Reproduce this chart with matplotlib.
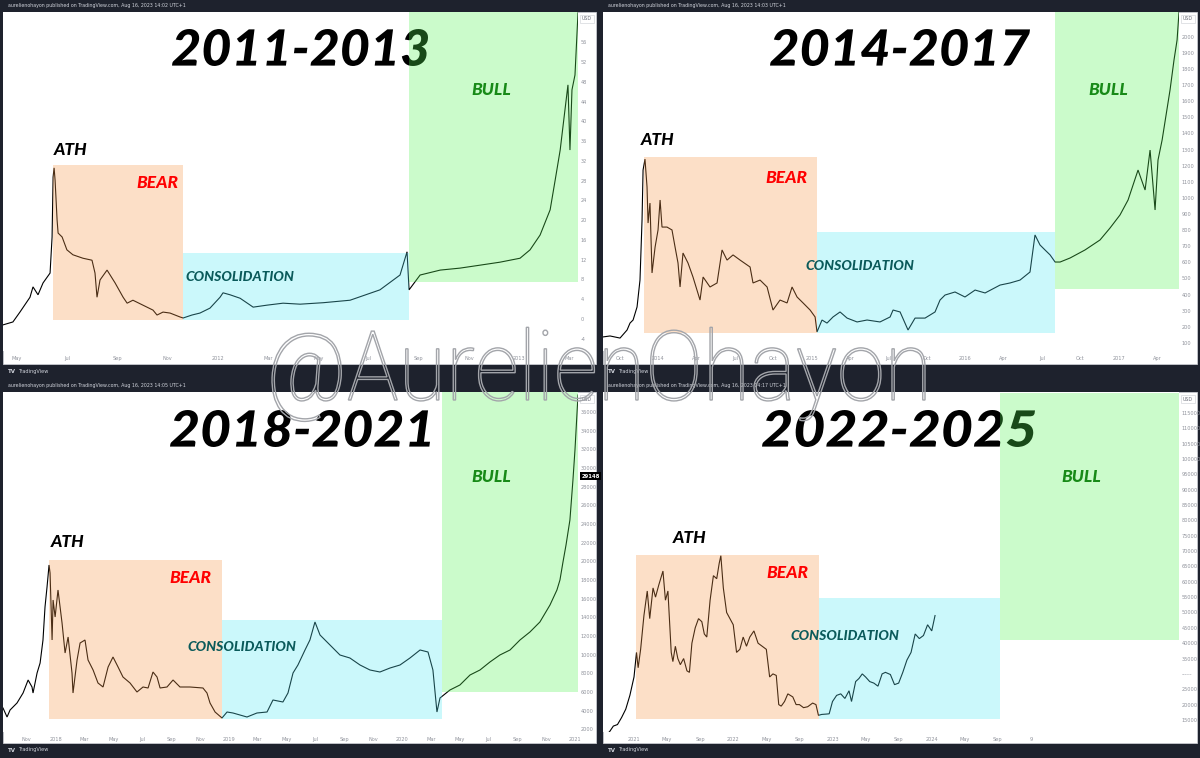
import matplotlib
matplotlib.use("Agg")
import matplotlib.pyplot as plt
from matplotlib.patches import Rectangle, PathPatch
from matplotlib.textpath import TextPath
from matplotlib.font_manager import FontProperties
from matplotlib.transforms import Affine2D

# ---------------- DATA ----------------
# Panel 1: 2011-2013 (x = months since Jan 2011, y = USD)
p1_month = [3.43, 3.83, 4.11, 4.51, 4.63, 4.83, 5.03, 5.31, 5.39, 5.43, 5.47, 5.51, 5.59, 5.63, 5.79,
            5.98, 6.22, 6.62, 6.98, 7.10, 7.18, 7.30, 7.58, 7.90, 8.22, 8.38, 8.61, 9.01, 9.41, 9.57,
            9.81, 10.09, 10.49, 10.61, 10.96, 11.28, 11.68, 12.08, 12.20, 12.48, 12.88, 13.40, 13.95,
            14.59, 15.27, 16.2, 17.26, 18.45, 19.25, 19.53, 19.61, 20.05, 20.85, 21.64, 22.44, 23.23,
            24.03, 24.43, 24.83, 25.23, 25.43, 25.63, 25.82, 25.94, 26.02, 26.10, 26.22, 26.34]
p1_price = [-1.2, -0.6, 1.4, 4.4, 6.5, 4.9, 7.3, 9.3, 16.6, 28.7, 30.6, 28.1, 20.0, 17.4, 16.6,
            14.0, 13.0, 12.3, 11.9, 9.3, 4.4, 7.9, 9.9, 7.3, 4.4, 3.2, 3.8, 2.8, 1.8, 0.8,
            1.4, 1.2, 0.4, 0.2, 0.8, 1.2, 2.2, 4.4, 5.3, 4.9, 4.2, 2.4, 2.8,
            3.2, 3.0, 3.3, 3.8, 5.9, 8.9, 13.6, 5.9, 8.9, 9.9, 10.3, 10.9, 11.5,
            12.3, 14.0, 17.0, 22.1, 28.1, 34.2, 42.3, 47.4, 34.2, 46.4, 49.4, 62.0]
p1_box_start = [5.43, 10.61, 19.61]
p1_box_end = [10.61, 19.61, 26.34]
p1_box_low = [-0.2, -0.2, 7.5]
p1_box_high = [31.2, 13.4, 62.2]
p1_xticks = [4, 6, 8, 10, 12, 14, 16, 18, 20, 22, 24, 26]
p1_xlabels = ["May", "Jul", "Sep", "Nov", "2012", "Mar", "May", "Jul", "Sep", "Nov", "2013", "Mar"]
p1_yticks = list(range(-4, 57, 4))

# Panel 2: 2014-2017 (x = months since Jan 2014)
p2_month = [-4.30, -3.75, -2.97, -2.42, -2.19, -1.95, -1.64, -1.41, -1.25, -1.17, -1.02, -0.86, -0.78,
            -0.63, -0.47, -0.23, 0.00, 0.16, 0.31, 0.70, 1.09, 1.33, 1.56, 1.72, 1.95, 2.34, 2.73,
            3.28, 3.52, 4.06, 4.61, 5.00, 5.39, 5.86, 6.41, 7.19, 7.42, 7.97, 8.52, 8.98, 9.53,
            10.08, 10.47, 10.86, 11.33, 11.88, 12.27, 12.42, 12.81, 13.20, 13.67, 14.22, 14.77,
            15.55, 16.33, 17.34, 18.13, 18.36, 18.91, 19.53, 20.08, 20.86, 21.64, 22.03, 22.42,
            23.20, 23.98, 24.77, 25.55, 26.72, 27.50, 28.28, 29.06, 29.45, 29.84, 30.23, 30.63,
            31.02, 31.41, 32.19, 33.36, 34.53, 35.31, 36.09, 36.72, 37.50, 38.05, 38.44, 38.83,
            39.06, 39.38, 40.00, 40.31, 40.55, 40.70]
p2_price = [137, 143, 130, 180, 223, 242, 323, 490, 863, 1173, 1241, 1068, 844,
            968, 534, 695, 801, 987, 819, 819, 801, 695, 596, 447, 658, 596, 509,
            366, 509, 447, 472, 677, 614, 646, 614, 571, 472, 490, 447, 304, 366,
            348, 447, 385, 348, 304, 261, 168, 242, 223, 261, 292, 254,
            230, 242, 230, 261, 304, 292, 180, 254, 254, 292, 366, 397,
            416, 385, 428, 410, 459, 472, 490, 540, 770, 708, 677, 646,
            602, 602, 627, 677, 739, 813, 894, 987, 1173, 1049, 1297, 925,
            1235, 1359, 1670, 1856, 1980, 2154]
p2_box_start = [-1.09, 12.42, 31.02]
p2_box_end = [12.42, 31.02, 40.70]
p2_box_low = [161, 161, 434]
p2_box_high = [1254, 788, 2160]
p2_xticks = [-3, 0, 3, 6, 9, 12, 15, 18, 21, 24, 27, 30, 33, 36, 39]
p2_xlabels = ["Oct", "2014", "Apr", "Jul", "Oct", "2015", "Apr", "Jul", "Oct", "2016", "Apr", "Jul",
              "Oct", "2017", "Apr"]
p2_yticks = list(range(100, 2001, 100))

# Panel 3: 2018-2021 (x = months since Jan 2018)
p3_month = [-3.64, -3.36, -3.15, -2.67, -2.25, -1.90, -1.63, -1.56, -1.28, -1.07, -0.87, -0.73, -0.59,
            -0.45, -0.38, -0.24, -0.17, -0.03, 0.17, 0.45, 0.66, 0.87, 1.14, 1.21, 1.49, 1.70, 2.04,
            2.25, 2.60, 2.94, 3.29, 3.64, 3.98, 4.33, 4.67, 5.16, 5.64, 6.06, 6.41, 6.75, 7.03, 7.24,
            7.72, 8.14, 8.62, 9.31, 10.21, 10.49, 10.70, 11.05, 11.53, 11.88, 12.29, 13.26, 13.95,
            14.65, 15.06, 15.75, 16.10, 16.45, 16.79, 17.28, 17.62, 17.97, 18.32, 19.01, 19.70, 20.39,
            21.09, 21.78, 22.47, 23.17, 23.86, 24.55, 25.25, 25.80, 26.14, 26.42, 26.63, 27.32, 28.01,
            28.71, 29.40, 30.09, 30.78, 31.48, 32.17, 32.86, 33.55, 34.25, 34.73, 34.94, 35.15, 35.36,
            35.63, 35.84, 35.98, 36.19]
p3_price = [4288, 3323, 4074, 4824, 5896, 7290, 6539, 5896, 8040, 9112, 11578, 15115, 17259,
            19618, 18760, 11578, 15866, 14043, 16938, 13400, 10184, 11899, 8040, 5896, 9434, 11256, 11578,
            9434, 8362, 6968, 6539, 8683, 9755, 8683, 7611, 6968, 6003, 6539, 6432, 8147, 7611, 6432,
            6539, 7290, 6539, 6539, 6432, 5896, 4824, 3859, 3216, 3859, 3752, 3323, 3752,
            3859, 5146, 4931, 5896, 8040, 8898, 10506, 11578, 13507, 12114, 11042, 9970, 9648,
            8898, 8362, 8147, 8576, 8898, 9648, 10506, 10291, 8362, 3859, 5360, 6218, 6754,
            7826, 8362, 9219, 9970, 10506, 11578, 12435, 13507, 15330, 16938, 18010, 19939, 21762,
            24442, 28730, 31946, 37842]
p3_box_start = [-0.45, 11.53, 26.77]
p3_box_end = [11.53, 26.77, 36.19]
p3_box_low = [3109, 3109, 6003]
p3_box_high = [20154, 13722, 38200]
p3_xticks = [-2, 0, 2, 4, 6, 8, 10, 12, 14, 16, 18, 20, 22, 24, 26, 28, 30, 32, 34, 36]
p3_xlabels = ["Nov", "2018", "Mar", "May", "Jul", "Sep", "Nov", "2019", "Mar", "May", "Jul", "Sep",
              "Nov", "2020", "Mar", "May", "Jul", "Sep", "Nov", "2021"]
p3_yticks = list(range(2000, 36001, 2000))
p3_last_price = 29148

# Panel 4: 2022-2025 (x = months since Jan 2021)
p4_month = [-3.8, -3.0, -2.5, -2.0, -1.5, -1.0, -0.5, 0.0, 0.3, 0.5, 0.8, 1.2, 1.6, 1.9, 2.3, 2.6,
            3.0, 3.5, 3.8, 4.1, 4.5, 4.7, 5.0, 5.3, 5.6, 6.0, 6.4, 6.7, 7.0, 7.4, 7.8, 8.2, 8.5, 8.8,
            9.2, 9.6, 10.0, 10.3, 10.5, 10.8, 11.2, 11.6, 12.0, 12.4, 12.8, 13.2, 13.6, 14.0, 14.5,
            15.0, 15.5, 16.0, 16.4, 16.8, 17.2, 17.5, 17.8, 18.2, 18.6, 19.2, 19.6, 20.0, 20.5, 21.0,
            21.6, 22.0, 22.3, 22.7, 23.2, 23.6, 24.0, 24.5, 25.0, 25.5, 26.0, 26.3, 26.8, 27.2, 27.6,
            28.0, 28.5, 29.0, 29.5, 30.0, 30.4, 31.0, 31.5, 32.0, 32.5, 33.0, 33.5, 34.0, 34.5, 35.0,
            35.5, 36.0, 36.4]
p4_price = [10500, 11000, 13000, 13500, 15800, 18500, 23000, 29000, 37000, 32000, 38000, 49000, 57000,
            48000, 58000, 55000, 59000, 63500, 54000, 57000, 37000, 34000, 39000, 35000, 33000, 35000,
            31000, 30500, 40000, 45000, 48000, 47000, 43000, 42000, 54000, 62000, 61000, 66000, 68500,
            58000, 50000, 48000, 46000, 37000, 38000, 42000, 39000, 42000, 44000, 40000, 39000, 38000,
            29000, 30000, 29500, 20000, 19500, 21000, 23500, 22500, 20000, 20000, 19000, 19300, 20500,
            20000, 16500, 16800, 16900, 17000, 21000, 23000, 23500, 22000, 24500, 21000, 27500, 28500,
            30000, 29000, 27500, 27000, 26000, 30000, 30500, 29800, 26500, 27000, 30500, 34500, 37000,
            43000, 41500, 42500, 46000, 44000, 49000]
p4_box_start = [0.24, 22.37, 44.26]
p4_box_end = [22.37, 44.26, 65.9]
p4_box_low = [15300, 15300, 41000]
p4_box_high = [68700, 54700, 121500]
p4_xticks = [0, 4, 8, 12, 16, 20, 24, 28, 32, 36, 40, 44, 48]
p4_xlabels = ["2021", "May", "Sep", "2022", "May", "Sep", "2023", "May", "Sep", "2024", "May", "Sep", "9"]
p4_yticks = list(range(15000, 115001, 5000))

titles = ["2011-2013", "2014-2017", "2018-2021", "2022-2025"]

# ---------------- STYLE / LAYOUT ----------------
W, H = 1200, 758
BG = "#1e222d"
BOX_COLORS = ["#f89848", "#55e8f5", "#55f555"]
BOX_ALPHA = 0.30
LABEL_COLORS = {"BEAR": "#ff0000", "CONSOLIDATION": "#0a5a5a", "BULL": "#178a17", "ATH": "#000000"}
TICK_COLOR = "#8f929b"

fig = plt.figure(figsize=(W / 100, H / 100), dpi=100, facecolor=BG)

def fx(x):
    return x / W

def fy(y):
    return 1 - y / H

HEAVY = FontProperties(family=["Lato", "DejaVu Sans"], weight="black", style="italic")
LBL_FONT = dict(family=["Lato", "DejaVu Sans"], weight="black", style="italic")


def fitted_text(ax, s, box, color, zorder, prop):
    """Draw text s as a filled path stretched to the pixel box (x0, ytop, x1, ybottom)."""
    x0, yt, x1, yb = box
    tp = TextPath((0, 0), s, size=100, prop=prop)
    ext = tp.get_extents()
    sx = (x1 - x0) / ext.width
    sy = (yb - yt) / ext.height
    tr = (Affine2D().translate(-ext.x0, -ext.y0).scale(sx, sy).translate(x0, H - yb)
          .scale(1 / W, 1 / H) + fig.transFigure)
    patch = PathPatch(tp, transform=tr, facecolor=color, edgecolor="none", zorder=zorder)
    patch.set_clip_on(False)
    ax.add_patch(patch)


panels = [
    dict(white=(3, 12, 596, 364), pane=(3, 12, 578, 351), xlim=(3.435, 26.34), ylim=(-6.48, 62.15),
         month=p1_month, price=p1_price, bs=p1_box_start, be=p1_box_end, bl=p1_box_low, bh=p1_box_high,
         xt=p1_xticks, xl=p1_xlabels, yt=p1_yticks, title=titles[0], tbox=(172, 29, 428, 66),
         lpos={"ATH": (71, 150), "BEAR": (157, 183), "CONSOLIDATION": (240, 277), "BULL": (491, 90)},
         header="aurelienohayon published on TradingView.com, Aug 16, 2023 14:02 UTC+1"),
    dict(white=(603, 12, 1197, 364), pane=(603, 12, 1179, 351), xlim=(-4.30, 40.70), ylim=(49.7, 2154),
         month=p2_month, price=p2_price, bs=p2_box_start, be=p2_box_end, bl=p2_box_low, bh=p2_box_high,
         xt=p2_xticks, xl=p2_xlabels, yt=p2_yticks, title=titles[1], tbox=(770, 29, 1030, 66),
         lpos={"ATH": (658, 140), "BEAR": (786, 178), "CONSOLIDATION": (860, 266), "BULL": (1108, 90)},
         header="aurelienohayon published on TradingView.com, Aug 16, 2023 14:03 UTC+1"),
    dict(white=(3, 392, 596, 743), pane=(3, 392, 578, 732), xlim=(-3.64, 36.19), ylim=(1715, 38163),
         month=p3_month, price=p3_price, bs=p3_box_start, be=p3_box_end, bl=p3_box_low, bh=p3_box_high,
         xt=p3_xticks, xl=p3_xlabels, yt=p3_yticks, title=titles[2], tbox=(170, 410, 430, 447),
         lpos={"ATH": (68, 542), "BEAR": (190, 578), "CONSOLIDATION": (242, 647), "BULL": (491, 477)},
         header="aurelienohayon published on TradingView.com, Aug 16, 2023 14:05 UTC+1"),
    dict(white=(603, 392, 1197, 743), pane=(603, 392, 1179, 732), xlim=(-3.75, 65.9), ylim=(11074, 121812),
         month=p4_month, price=p4_price, bs=p4_box_start, be=p4_box_end, bl=p4_box_low, bh=p4_box_high,
         xt=p4_xticks, xl=p4_xlabels, yt=p4_yticks, title=titles[3], tbox=(762, 410, 1035, 447),
         lpos={"ATH": (690, 538), "BEAR": (787, 573), "CONSOLIDATION": (845, 636), "BULL": (1081, 477)},
         header="aurelienohayon published on TradingView.com, Aug 16, 2023 14:17 UTC+1"),
]

for i, pn in enumerate(panels):
    wx0, wy0, wx1, wy1 = pn["white"]
    fig.patches.append(Rectangle((fx(wx0), fy(wy1)), fx(wx1 - wx0), (wy1 - wy0) / H,
                                 transform=fig.transFigure, facecolor="white", edgecolor="#c8cad0",
                                 linewidth=0.6, zorder=-5))
    px0, py0, px1, py1 = pn["pane"]
    ax = fig.add_axes([fx(px0), fy(py1), fx(px1 - px0), (py1 - py0) / H])
    ax.set_facecolor("white")
    ax.set_xlim(*pn["xlim"])
    ax.set_ylim(*pn["ylim"])
    for s in ax.spines.values():
        s.set_visible(False)
    # price line
    ax.plot(pn["month"], pn["price"], color="black", lw=0.8, zorder=3, solid_joinstyle="miter")
    # boxes
    for k in range(3):
        ax.add_patch(Rectangle((pn["bs"][k], pn["bl"][k]), pn["be"][k] - pn["bs"][k],
                               pn["bh"][k] - pn["bl"][k], facecolor=BOX_COLORS[k], alpha=BOX_ALPHA,
                               edgecolor="none", zorder=4))
    # ticks
    ax.yaxis.tick_right()
    ax.set_yticks(pn["yt"])
    ylabels = [str(v) for v in pn["yt"]]
    if i == 3:
        ylabels = ["------" if v == 30000 else str(v) for v in pn["yt"]]
    ax.set_yticklabels(ylabels)
    ax.set_xticks(pn["xt"])
    ax.set_xticklabels(pn["xl"])
    ax.tick_params(axis="both", length=0, labelsize=3.6, colors=TICK_COLOR)
    ax.tick_params(axis="y", pad=2.0)
    ax.tick_params(axis="x", pad=3.5)
    # big title (under the boxes)
    fitted_text(ax, pn["title"], pn["tbox"], "black", 2, HEAVY)
    # phase labels
    for name, (lx, ly) in pn["lpos"].items():
        fs = 10 if name == "CONSOLIDATION" else 12.5
        ax.text(fx(lx), fy(ly), name, transform=fig.transFigure, ha="center", va="center",
                fontsize=fs, color=LABEL_COLORS[name], zorder=6, **LBL_FONT)
    # USD label
    fig.text(fx(wx1 - 9), fy(wy0 + 7), "USD", ha="center", va="center", fontsize=3.4, color="#6a6d78",
             bbox=dict(boxstyle="square,pad=0.35", facecolor="white", edgecolor="#d5d7dc", lw=0.5))
    # header
    fig.text(fx(wx0 + 5), fy(wy0 - 6), pn["header"], ha="left", va="center", fontsize=3.4, color="#d1d4dc")
    # tradingview logo
    fig.text(fx(wx0 + 5), fy(wy1 + 7), "TV", ha="left", va="center", fontsize=4, color="#d1d4dc",
             weight="bold")
    fig.text(fx(wx0 + 15), fy(wy1 + 7), "TradingView", ha="left", va="center", fontsize=3.6,
             color="#d1d4dc")

# last price marker (panel 3)
ax3 = fig.axes[2]
yfrac = (p3_last_price - panels[2]["ylim"][0]) / (panels[2]["ylim"][1] - panels[2]["ylim"][0])
ax3.text(1.006, yfrac, str(p3_last_price), transform=ax3.transAxes, ha="left", va="center",
         fontsize=3.8, color="white", weight="bold", zorder=10, clip_on=False,
         bbox=dict(boxstyle="square,pad=0.3", facecolor="black", edgecolor="none"))

# watermark
fp = FontProperties(family=["Roboto", "DejaVu Sans"], weight="light")
tp = TextPath((0, 0), "@AurelienOhayon", size=100, prop=fp)
ext = tp.get_extents()
s = 653.0 / ext.width
base_y = H - 400
tr = Affine2D().translate(-ext.x0, 0).scale(s, s * 1.12).translate(272, base_y).scale(1 / W, 1 / H) + fig.transFigure
fig.patches.append(PathPatch(tp, transform=tr, facecolor="none", edgecolor="#a3a5aa", lw=1.0, zorder=20))

fig.savefig("out.png", dpi=100, facecolor=BG)
